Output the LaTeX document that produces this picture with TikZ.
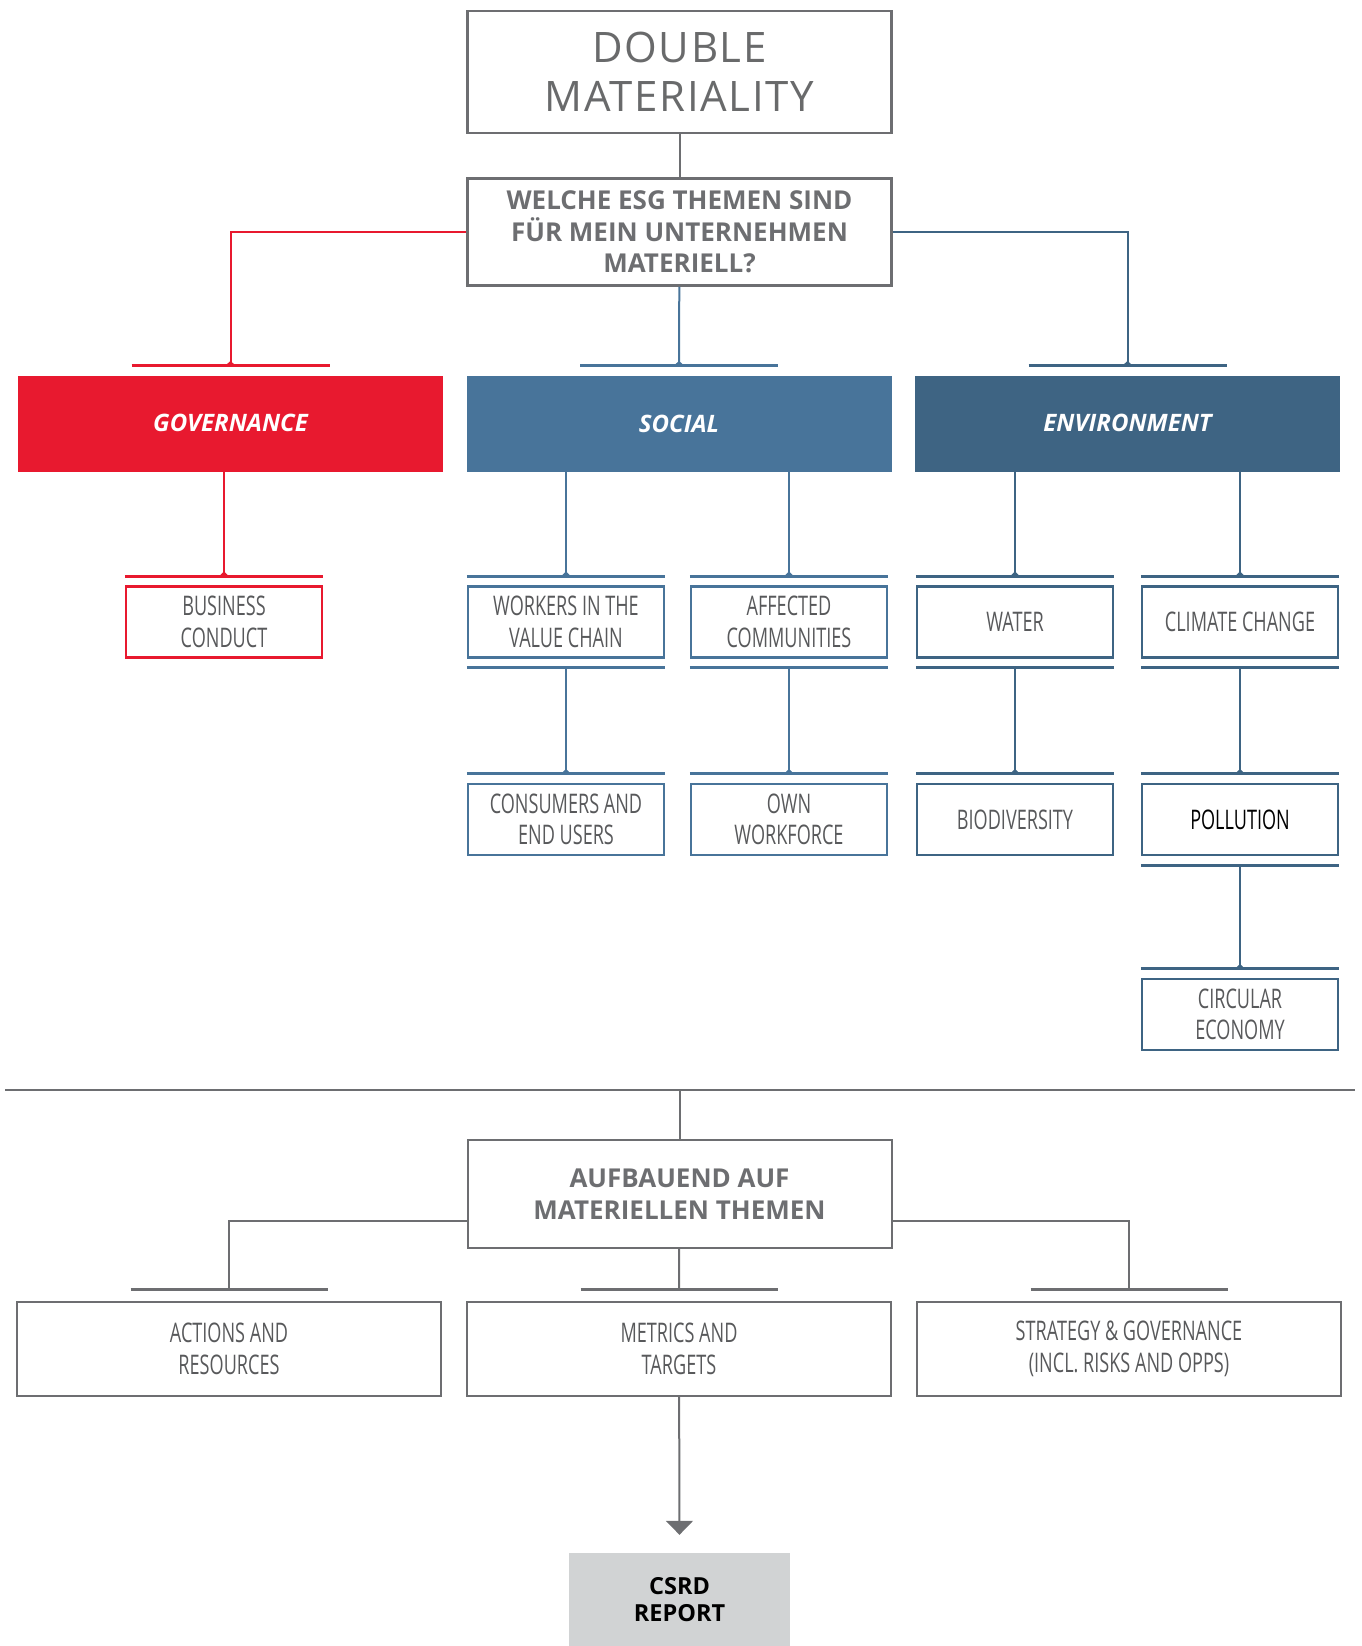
\documentclass[tikz,border=0pt]{standalone}
\usepackage{fontspec}
\setmainfont{Open Sans}
\newfontfamily\condfont{Open Sans}[FakeStretch=0.67]
\newfontfamily\titlefont{Open Sans}[LetterSpace=4]
\usetikzlibrary{arrows.meta}
\definecolor{esgred}{HTML}{E8192F}
\definecolor{esgsocial}{HTML}{48749A}
\definecolor{esgenv}{HTML}{3E6483}
\definecolor{esggray}{HTML}{6D6E71}
\definecolor{esgtext}{HTML}{58595B}
\definecolor{esglight}{HTML}{D1D3D4}
\tikzset{
  bigbox/.style={draw=esggray, line width=2.5pt, minimum width=424pt, align=center, inner sep=0pt, text=esggray},
  catbox/.style={fill=#1, minimum width=425pt, minimum height=96pt, inner sep=0pt, text=white, font=\bfseries\itshape\fontsize{24}{28}\selectfont},
  topicbox/.style={draw=#1, line width=2.2pt, minimum width=196pt, minimum height=71pt, align=center, inner sep=0pt, text=esgtext, font=\condfont\fontsize{27}{31.5}\selectfont},
  outbox/.style={draw=esggray, line width=2pt, minimum width=424pt, minimum height=94pt, align=center, inner sep=0pt, text=esgtext, font=\condfont\fontsize{27}{31.5}\selectfont},
  link/.style={line width=2pt, -{Triangle[reversed, width=10pt, length=5pt]}},
  teebar/.style={line width=3pt},
}
\begin{document}
\begin{tikzpicture}[x=1pt, y=-1pt]
\useasboundingbox (0,0) rectangle (1362,1646);
\node[bigbox, minimum height=122pt, text=esgtext!90, font=\titlefont\fontsize{42}{49}\selectfont] (dm) at (679.5,72) {DOUBLE\\MATERIALITY};
\node[bigbox, minimum height=107pt, font=\bfseries\fontsize{26}{31.5}\selectfont] (q) at (679.5,232) {WELCHE ESG THEMEN SIND\\FÜR MEIN UNTERNEHMEN\\MATERIELL?};
\node[catbox=esgred] (gov) at (230.5,424) {\raisebox{3pt}{GOVERNANCE}};
\node[catbox=esgsocial] (soc) at (679,424) {\raisebox{-4pt}{SOCIAL}};
\node[catbox=esgenv] (env) at (1127.5,424) {\raisebox{3pt}{ENVIRONMENT}};
\draw[esggray, line width=2pt] (dm) -- (q);
\draw[link, esgred] (q.west) -| ([yshift=10pt]gov.north);
\draw[link, esgsocial] (q) -- ([yshift=10pt]soc.north);
\draw[link, esgenv] (q.east) -| ([yshift=10pt]env.north);
\foreach \name/\col in {gov/esgred, soc/esgsocial, env/esgenv}
  \draw[teebar, \col] ([xshift=-99pt, yshift=10pt]\name.north) -- ([xshift=99pt, yshift=10pt]\name.north);
\foreach \name/\x/\y/\col/\txt in {
    bc/224/622/esgred/{BUSINESS\\CONDUCT},
    wvc/566/622/esgsocial/{WORKERS IN THE\\VALUE CHAIN},
    aff/789/622/esgsocial/{AFFECTED\\COMMUNITIES},
    cons/566/819.5/esgsocial/{CONSUMERS AND\\END USERS},
    own/789/819.5/esgsocial/{OWN\\WORKFORCE},
    wat/1015/622/esgenv/{WATER},
    clim/1240/622/esgenv/{CLIMATE CHANGE},
    bio/1015/819.5/esgenv/{BIODIVERSITY},
    pol/1240/819.5/esgenv/{\textcolor{black}{POLLUTION}},
    circ/1240/1014.5/esgenv/{CIRCULAR\\ECONOMY}}
  \node[topicbox=\col] (\name) at (\x,\y) {\txt};
\foreach \name/\col in {bc/esgred, wvc/esgsocial, aff/esgsocial, cons/esgsocial, own/esgsocial, wat/esgenv, clim/esgenv, bio/esgenv, pol/esgenv, circ/esgenv}
  \draw[teebar, \col] ([yshift=9pt]\name.north west) -- ([yshift=9pt]\name.north east);
\foreach \name/\col in {wvc/esgsocial, aff/esgsocial, wat/esgenv, clim/esgenv, pol/esgenv}
  \draw[teebar, \col] ([yshift=-9pt]\name.south west) -- ([yshift=-9pt]\name.south east);
\foreach \a/\b/\col in {gov/bc/esgred, soc/wvc/esgsocial, soc/aff/esgsocial, env/wat/esgenv, env/clim/esgenv}
  \draw[link, \col] (\a.south -| \b.north) -- ([yshift=9pt]\b.north);
\foreach \a/\b/\col in {wvc/cons/esgsocial, aff/own/esgsocial, wat/bio/esgenv, clim/pol/esgenv, pol/circ/esgenv}
  \draw[link, \col] ([yshift=-9pt]\a.south) -- ([yshift=9pt]\b.north);
\coordinate (sepl) at (5,1090);
\coordinate (sepr) at (1355,1090);
\draw[esggray, line width=2.5pt] (sepl) -- (sepr);
\node[bigbox, line width=2pt, minimum height=108pt, font=\bfseries\fontsize{26}{31.5}\selectfont] (ab) at (679.5,1194) {AUFBAUEND AUF\\MATERIELLEN THEMEN};
\draw[esggray, line width=2pt] (ab.north |- sepl) -- (ab);
\foreach \name/\x/\txt in {act/229/{ACTIONS AND\\RESOURCES}, met/679/{METRICS AND\\TARGETS}, strat/1129/{STRATEGY \& GOVERNANCE\\(INCL. RISKS AND OPPS)}}
  \node[outbox] (\name) at (\x,1349) {\txt};
\foreach \name in {act, met, strat}
  \draw[teebar, esggray] ([xshift=-98.5pt, yshift=12pt]\name.north) -- ([xshift=98.5pt, yshift=12pt]\name.north);
\draw[esggray, line width=2pt] ([yshift=-27pt]ab.west) -| ([yshift=12pt]act.north);
\draw[esggray, line width=2pt] (ab) -- ([yshift=12pt]met.north);
\draw[esggray, line width=2pt] ([yshift=-27pt]ab.east) -| ([yshift=12pt]strat.north);
\node[fill=esglight, minimum width=221pt, minimum height=93pt, align=center, text=black, font=\bfseries\fontsize{23.5}{27}\selectfont] (csrd) at (679.5,1599.5) {CSRD\\REPORT};
\draw[esggray, line width=2pt, -{Triangle[width=27pt, length=14pt]}] (met) -- ([yshift=18pt]csrd.north);
\end{tikzpicture}
\end{document}
